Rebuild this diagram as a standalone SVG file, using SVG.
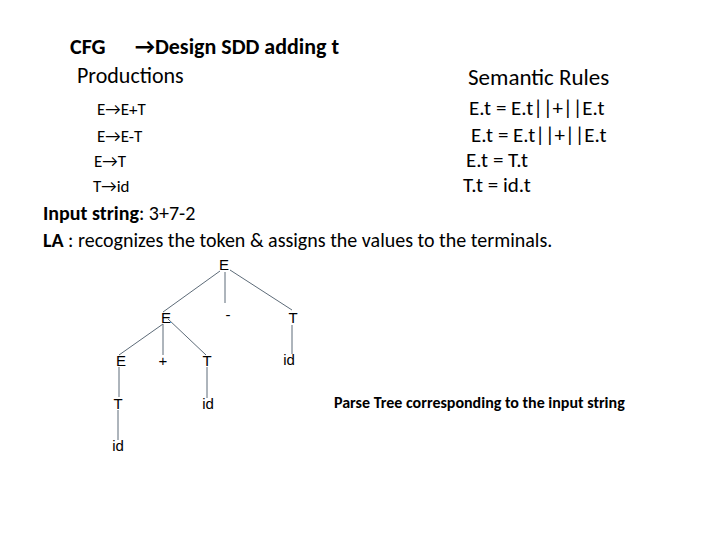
<svg xmlns="http://www.w3.org/2000/svg" width="720" height="540" viewBox="0 0 720 540">
<style>
text{font-family:Calibri,Carlito,"Liberation Sans",sans-serif;fill:#000}
.h{font-size:22px;font-weight:bold}
.s{font-size:22px}
.s2{font-size:23px}
.p{font-size:17px}
.r{font-size:21px}
.b{font-size:20px}
.t{font-family:"Liberation Sans Narrow","Liberation Sans",sans-serif;font-size:15px}
.c line{stroke:#5d6b78;stroke-width:1}
</style>
<rect width="720" height="540" fill="#fff"/>
<text class="h" x="70" y="54">CFG</text>
<text class="h" x="135" y="54">→Design SDD adding t</text>
<text class="s" x="77" y="83">Productions</text>
<text class="s2" x="468" y="85">Semantic Rules</text>
<text class="p" x="97" y="115">E→E+T</text>
<text class="p" x="97" y="142">E→E-T</text>
<text class="p" x="94" y="167">E→T</text>
<text class="p" x="93" y="192">T→id</text>
<text class="r" x="469" y="115">E.t = E.t||+||E.t</text>
<text class="r" x="471" y="142">E.t = E.t||+||E.t</text>
<text class="r" x="466" y="167">E.t = T.t</text>
<text class="r" x="463" y="192">T.t = id.t</text>
<text class="b" x="43" y="220"><tspan font-weight="bold">Input string</tspan>: 3+7-2</text>
<text class="b" x="43" y="247"><tspan font-weight="bold">LA</tspan> : recognizes the token &amp; assigns the values to the terminals.</text>
<g class="c" id="connectors">
<line x1="220" y1="271" x2="163" y2="312"/>
<line x1="225" y1="272" x2="225" y2="303"/>
<line x1="230" y1="270" x2="292" y2="310"/>
<line x1="163" y1="324" x2="119" y2="355"/>
<line x1="163" y1="324" x2="163" y2="355"/>
<line x1="168" y1="319" x2="206" y2="355"/>
<line x1="292" y1="325" x2="292" y2="354"/>
<line x1="119" y1="367" x2="119" y2="397"/>
<line x1="207" y1="367" x2="207" y2="398"/>
<line x1="118" y1="410" x2="118" y2="440"/>
</g>
<g id="n1"><text class="t" x="224" y="270" text-anchor="middle">E</text></g>
<g id="n2"><text class="t" x="166" y="323" text-anchor="middle">E</text></g>
<g id="n3"><text class="t" x="228" y="320" text-anchor="middle">-</text></g>
<g id="n4"><text class="t" x="293" y="323" text-anchor="middle">T</text></g>
<g id="n5"><text class="t" x="121" y="366" text-anchor="middle">E</text></g>
<g id="n6"><text class="t" x="163" y="366" text-anchor="middle">+</text></g>
<g id="n7"><text class="t" x="207" y="366" text-anchor="middle">T</text></g>
<g id="n8"><text class="t" x="289" y="365" text-anchor="middle">id</text></g>
<g id="n9"><text class="t" x="118" y="409" text-anchor="middle">T</text></g>
<g id="n10"><text class="t" x="208" y="409" text-anchor="middle">id</text></g>
<g id="n11"><text class="t" x="118" y="451" text-anchor="middle">id</text></g>
<g id="caption"><text x="334" y="408" style="font-size:16px;font-weight:bold">Parse Tree corresponding to the input string</text></g>
</svg>
